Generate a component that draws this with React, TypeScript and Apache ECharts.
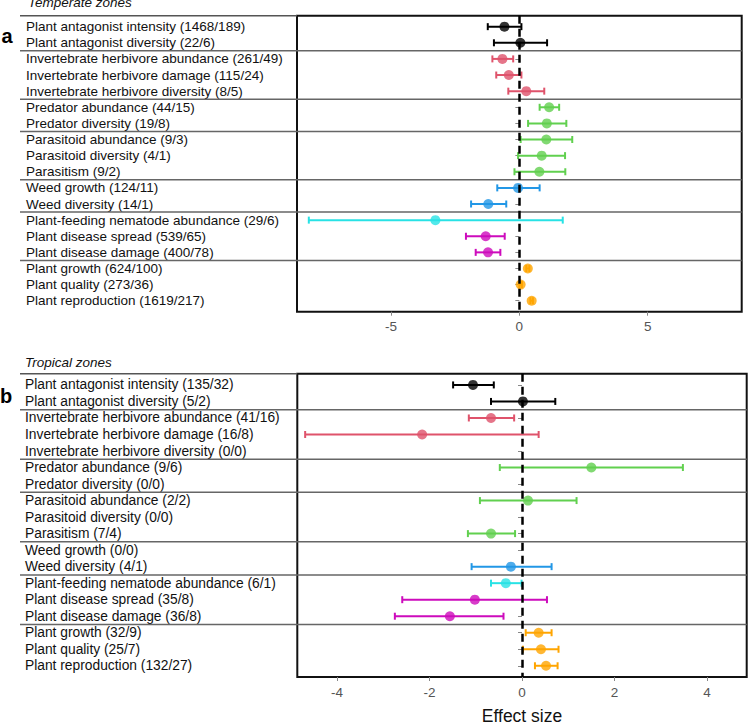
import React, { useEffect, useRef } from "react";
import * as echarts from "echarts";

const labelsA = [
  "Plant antagonist intensity (1468/189)",
  "Plant antagonist diversity (22/6)",
  "Invertebrate herbivore abundance (261/49)",
  "Invertebrate herbivore damage (115/24)",
  "Invertebrate herbivore diversity (8/5)",
  "Predator abundance (44/15)",
  "Predator diversity (19/8)",
  "Parasitoid abundance (9/3)",
  "Parasitoid diversity (4/1)",
  "Parasitism (9/2)",
  "Weed growth (124/11)",
  "Weed diversity (14/1)",
  "Plant-feeding nematode abundance (29/6)",
  "Plant disease spread (539/65)",
  "Plant disease damage (400/78)",
  "Plant growth (624/100)",
  "Plant quality (273/36)",
  "Plant reproduction (1619/217)",
];
const estA = [-0.58, 0.04, -0.66, -0.41, 0.27, 1.16, 1.07, 1.05, 0.87, 0.78, -0.05, -1.21, -3.27, -1.31, -1.22, 0.33, 0.05, 0.48];
const lowA = [-1.23, -0.99, -1.05, -0.9, -0.43, 0.79, 0.34, 0.05, -0.05, -0.19, -0.86, -1.88, -8.2, -2.08, -1.7, 0.27, 0.0, 0.43];
const highA = [0.08, 1.08, -0.24, 0.08, 0.97, 1.55, 1.83, 2.06, 1.78, 1.79, 0.79, -0.51, 1.69, -0.57, -0.74, 0.39, 0.1, 0.53];

const labelsB = [
  "Plant antagonist intensity (135/32)",
  "Plant antagonist diversity (5/2)",
  "Invertebrate herbivore abundance (41/16)",
  "Invertebrate herbivore damage (16/8)",
  "Invertebrate herbivore diversity (0/0)",
  "Predator abundance (9/6)",
  "Predator diversity (0/0)",
  "Parasitoid abundance (2/2)",
  "Parasitoid diversity (0/0)",
  "Parasitism (7/4)",
  "Weed growth (0/0)",
  "Weed diversity (4/1)",
  "Plant-feeding nematode abundance (6/1)",
  "Plant disease spread (35/8)",
  "Plant disease damage (36/8)",
  "Plant growth (32/9)",
  "Plant quality (25/7)",
  "Plant reproduction (132/27)",
];
const estB = [-1.06, 0.02, -0.67, -2.16, null, 1.5, null, 0.13, null, -0.67, null, -0.24, -0.35, -1.02, -1.56, 0.36, 0.41, 0.52];
const lowB = [-1.49, -0.67, -1.15, -4.69, null, -0.48, null, -0.91, null, -1.17, null, -1.09, -0.67, -2.59, -2.75, 0.08, 0.02, 0.28];
const highB = [-0.61, 0.72, -0.17, 0.36, null, 3.48, null, 1.18, null, -0.15, null, 0.64, -0.01, 0.54, -0.4, 0.64, 0.79, 0.77];

const colorIdx = [0, 0, 1, 1, 1, 2, 2, 2, 2, 2, 3, 3, 4, 5, 5, 6, 6, 6];
const palette = ["#000000", "#DF536B", "#61D04F", "#2297E6", "#28E2E5", "#CD0BBC", "#FFA500"];
const separators = [2.5, 5.5, 7.5, 10.5, 12.5, 15.5];
const ticksA = [-5, 0, 5];
const ticksB = [-4, -2, 0, 2, 4];
const rangeA = 8.66;
const rangeB = 4.86;
const yMin = 0.32;
const yMax = 18.68;
const rows = labelsA.map((_, i) => i + 1);

const FONT = "'Liberation Sans', Arial, sans-serif";

function buildSeries(idx: number, est: (number | null)[], low: (number | null)[], high: (number | null)[]) {
  const barData: any[] = [];
  const dotData: any[] = [];
  est.forEach((e, i) => {
    if (e === null) return;
    const color = palette[colorIdx[i]];
    barData.push({ value: [low[i], high[i], i + 1], itemStyle: { color } });
    dotData.push({ value: [e, i + 1], itemStyle: { color } });
  });
  return [
    {
      type: "custom",
      xAxisIndex: idx,
      yAxisIndex: idx,
      z: 2,
      data: barData,
      renderItem: (params: any, api: any) => {
        const p1 = api.coord([api.value(0), api.value(2)]);
        const p2 = api.coord([api.value(1), api.value(2)]);
        const color = api.visual("color");
        const h = 3.5;
        const st = { stroke: color, lineWidth: 2 };
        return {
          type: "group",
          children: [
            { type: "line", shape: { x1: p1[0], y1: p1[1], x2: p2[0], y2: p2[1] }, style: st },
            { type: "line", shape: { x1: p1[0], y1: p1[1] - h, x2: p1[0], y2: p1[1] + h }, style: st },
            { type: "line", shape: { x1: p2[0], y1: p2[1] - h, x2: p2[0], y2: p2[1] + h }, style: st },
          ],
        };
      },
    },
    {
      type: "scatter",
      xAxisIndex: idx,
      yAxisIndex: idx,
      symbol: "circle",
      symbolSize: 10,
      z: 3,
      data: dotData,
    },
    {
      type: "line",
      xAxisIndex: idx,
      yAxisIndex: idx,
      data: [],
      z: 10,
      markLine: {
        silent: true,
        symbol: ["none", "none"],
        label: { show: false },
        lineStyle: { color: "#000", type: [8, 5], width: 2.5 },
        data: [{ xAxis: 0 }],
        z: 10,
      },
    },
  ];
}

function xAxisOf(idx: number, range: number, ticks: number[], withName: boolean) {
  return {
    type: "value",
    gridIndex: idx,
    min: -range,
    max: range,
    axisLine: { show: false },
    splitLine: { show: false },
    axisTick: { show: true, length: 4, lineStyle: { color: "#888", width: 1 }, customValues: ticks },
    axisLabel: {
      show: true,
      customValues: ticks,
      margin: 8,
      color: "#555",
      fontSize: 13.5,
      fontFamily: FONT,
      formatter: (v: number) => String(v),
    },
    name: withName ? "Effect size" : "",
    nameLocation: "middle",
    nameGap: 30,
    nameTextStyle: { fontSize: 17.5, color: "#111", fontFamily: FONT },
  };
}

function yAxisOf(idx: number, labels: string[], fontSize: number, margin: number) {
  return {
    type: "value",
    gridIndex: idx,
    min: yMin,
    max: yMax,
    inverse: true,
    axisLine: { show: false },
    splitLine: { show: false },
    axisTick: { show: true, length: 4, lineStyle: { color: "#888", width: 1 }, customValues: rows },
    axisLabel: {
      show: true,
      customValues: rows,
      align: "left",
      margin,
      color: "#111",
      fontSize,
      fontFamily: FONT,
      formatter: (v: number) => labels[Math.round(v) - 1] ?? "",
    },
  };
}

export default function App() {
  const ref = useRef<HTMLDivElement>(null);
  useEffect(() => {
    if (!ref.current) return;
    const chart = echarts.init(ref.current, null, { renderer: "svg" });
    const option: any = {
      animation: false,
      backgroundColor: "#fff",
      grid: [
        { left: 297, right: 7.3, top: 15.7, bottom: 414.3, show: true, borderColor: "#111", borderWidth: 2, backgroundColor: "transparent" },
        { left: 297.3, right: 2.3, top: 373.7, bottom: 46.7, show: true, borderColor: "#111", borderWidth: 2, backgroundColor: "transparent" },
      ],
      xAxis: [xAxisOf(0, rangeA, ticksA, false), xAxisOf(1, rangeB, ticksB, true)],
      yAxis: [yAxisOf(0, labelsA, 13.5, 271), yAxisOf(1, labelsB, 13.8, 272.3)],
      series: [...buildSeries(0, estA, lowA, highA), ...buildSeries(1, estB, lowB, highB)],
      graphic: [],
    };
    chart.setOption(option);

    const texts: any[] = [
      { type: "text", x: 28, y: 2.8, style: { text: "Temperate zones", font: `italic 13.5px ${FONT}`, fill: "#111", verticalAlign: "middle" } },
      { type: "text", x: 25, y: 362.6, style: { text: "Tropical zones", font: `italic 13.5px ${FONT}`, fill: "#111", verticalAlign: "middle" } },
      { type: "text", x: 1.5, y: 36, style: { text: "a", font: `bold 20px ${FONT}`, fill: "#000", verticalAlign: "middle" } },
      { type: "text", x: 0, y: 395.5, style: { text: "b", font: `bold 20px ${FONT}`, fill: "#000", verticalAlign: "middle" } },
    ];
    const lines: any[] = [];
    const ranges = [rangeA, rangeB];
    [0, 1].forEach((g) => {
      const tl = chart.convertToPixel({ gridIndex: g } as any, [-ranges[g], yMin]) as number[];
      lines.push({
        type: "line",
        shape: { x1: 20, y1: tl[1], x2: tl[0], y2: tl[1] },
        style: { stroke: "#555", lineWidth: 1.5 },
        z: 5,
      });
      separators.forEach((s) => {
        const pr = chart.convertToPixel({ gridIndex: g } as any, [ranges[g], s]) as number[];
        lines.push({
          type: "line",
          shape: { x1: 20, y1: pr[1], x2: pr[0], y2: pr[1] },
          style: { stroke: "#666", lineWidth: 1.5 },
          z: 1,
        });
      });
    });
    chart.setOption({ graphic: [...texts, ...lines] });
    return () => chart.dispose();
  }, []);
  return <div ref={ref} style={{ position: "absolute", left: 0, top: 0, width: 749, height: 726 }} />;
}
